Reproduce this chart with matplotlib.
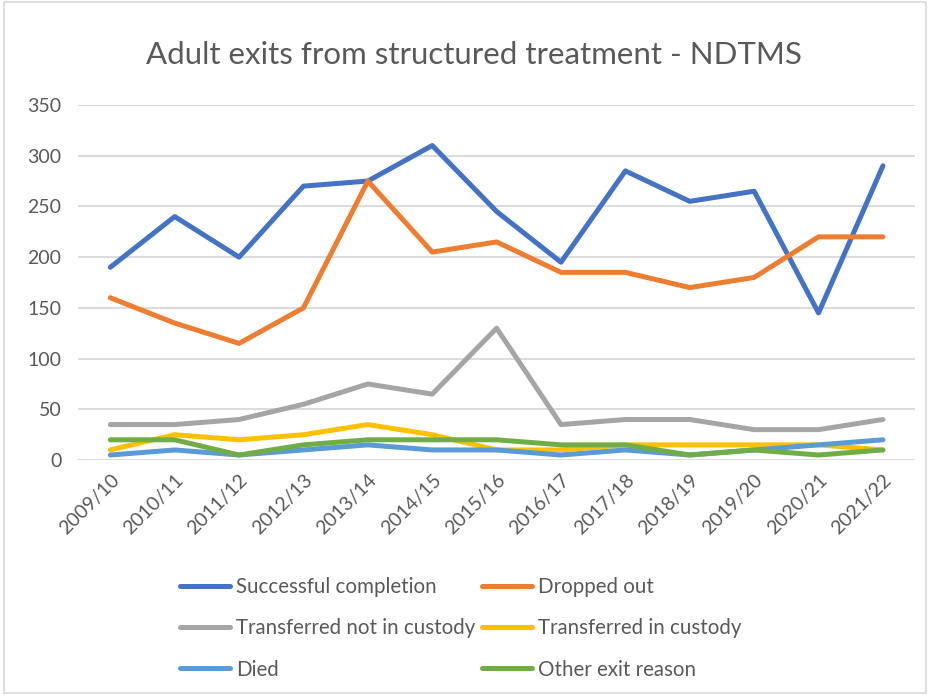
import matplotlib
matplotlib.use("Agg")
import matplotlib.pyplot as plt
from matplotlib.patches import Rectangle

years = ["2009/10", "2010/11", "2011/12", "2012/13", "2013/14", "2014/15", "2015/16",
         "2016/17", "2017/18", "2018/19", "2019/20", "2020/21", "2021/22"]
successful = [190, 240, 200, 270, 275, 310, 245, 195, 285, 255, 265, 145, 290]
dropped = [160, 135, 115, 150, 275, 205, 215, 185, 185, 170, 180, 220, 220]
transferred_not_custody = [35, 35, 40, 55, 75, 65, 130, 35, 40, 40, 30, 30, 40]
transferred_custody = [10, 25, 20, 25, 35, 25, 10, 10, 15, 15, 15, 15, 10]
died = [5, 10, 5, 10, 15, 10, 10, 5, 10, 5, 10, 15, 20]
other = [20, 20, 5, 15, 20, 20, 20, 15, 15, 5, 10, 5, 10]

series = [
    ("Successful completion", successful, "#4472C4"),
    ("Dropped out", dropped, "#ED7D31"),
    ("Transferred not in custody", transferred_not_custody, "#A5A5A5"),
    ("Transferred in custody", transferred_custody, "#FFC000"),
    ("Died", died, "#5B9BD5"),
    ("Other exit reason", other, "#70AD47"),
]

plt.rcParams['font.family'] = ['Lato', 'DejaVu Sans']
txt = "#595959"

fig = plt.figure(figsize=(9.3, 6.95), dpi=100)
fig.patches.append(Rectangle((0.004, 0.003), 0.992, 0.994, transform=fig.transFigure,
                             fill=False, edgecolor="#d9d9d9", linewidth=1.2))
ax = fig.add_axes([0.084, 0.338, 0.900, 0.511])

x = list(range(len(years)))
handles = []
for name, vals, col in series:
    h, = ax.plot(x, vals, color=col, linewidth=3.6, solid_capstyle="round",
                 solid_joinstyle="round", label=name)
    handles.append(h)

ax.set_xlim(-0.5, len(years) - 0.5)
ax.set_ylim(0, 350)
ax.set_yticks(range(0, 351, 50))
ax.set_xticks(x)
ax.set_xticklabels(years, rotation=45, ha="right", rotation_mode="anchor")
ax.tick_params(axis="both", length=0, colors=txt, labelsize=14)
ax.tick_params(axis="y", pad=12)
ax.tick_params(axis="x", pad=8)
ax.grid(axis="y", color="#d9d9d9", linewidth=1.3)
ax.set_axisbelow(True)
for s in ax.spines.values():
    s.set_visible(False)

fig.text(0.51, 0.921, "Adult exits from structured treatment - NDTMS", ha="center",
         va="center", fontsize=22.5, color=txt)

# column-major order for a row-major looking legend
order = [0, 2, 4, 1, 3, 5]
leg = fig.legend(handles=[handles[i] for i in order], loc="upper left",
                 bbox_to_anchor=(0.174, 0.196),
                 ncol=2, frameon=False, fontsize=14.8, labelcolor=txt,
                 handlelength=2.4, handletextpad=0.3, columnspacing=0.35,
                 labelspacing=1.03)
fig.savefig("out.png", dpi=100)
